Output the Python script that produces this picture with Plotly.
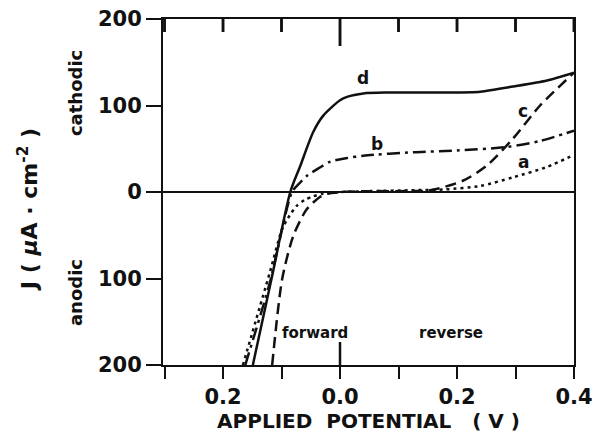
import plotly.graph_objects as go

# ---- data ----
a_x = [-0.166, -0.12, -0.099, -0.086, -0.074, -0.06, -0.046, -0.03, 0.0, 0.05, 0.12, 0.18, 0.24, 0.296, 0.354, 0.40]
a_y = [-200, -93, -43, -27, -16, -9, -5, -2, 0, 1, 2, 3, 7, 17, 29, 43]

b_x = [-0.162, -0.12, -0.082, -0.068, -0.056, -0.035, -0.017, 0.01, 0.04, 0.125, 0.2, 0.285, 0.342, 0.40]
b_y = [-200, -105, 0, 11, 19, 28, 35, 39, 42, 46, 48, 52, 59, 71]

c_x = [-0.116, -0.099, -0.08, -0.057, -0.035, -0.022, 0.0, 0.05, 0.1, 0.154, 0.21, 0.25, 0.296, 0.342, 0.40]
c_y = [-200, -101, -51, -20, -6, -2, 0, 1, 1, 2, 13, 30, 62, 100, 138]

d_x = [-0.149, -0.117, -0.085, -0.068, -0.046, -0.029, 0.0, 0.012, 0.04, 0.08, 0.125, 0.18, 0.24, 0.296, 0.354, 0.40]
d_y = [-200, -100, 0, 30, 69, 88, 106, 110, 114, 115, 115, 115, 116, 122, 129, 138]

x_tickvals = [-0.2, 0.0, 0.2, 0.4]
x_ticktext = ["0.2", "0.0", "0.2", "0.4"]
x_minorvals = [-0.3, -0.2, -0.1, 0.0, 0.1, 0.2, 0.3, 0.4]
y_tickvals = [200, 100, 0, -100, -200]
y_ticktext = ["200", "100", "0", "100", "200"]

curve_labels = [("d", 0.040, 132), ("c", 0.313, 94), ("b", 0.063, 55), ("a", 0.313, 35)]
region_labels = [("forward", -0.043, -163), ("reverse", 0.19, -163)]

FONT = "DejaVu Sans"
BLACK = "#111111"
Y_MAX = 200
PLOT_H = 346.0
PX_PER_UNIT = PLOT_H / 400.0

def bold(s):
    return "<b>" + s + "</b>"

fig = go.Figure()
styles = [
    (a_x, a_y, "3px,4px"),
    (b_x, b_y, "13px,5px,3px,5px"),
    (c_x, c_y, "11px,6px"),
    (d_x, d_y, "solid"),
]
for xs, ys, dash in styles:
    fig.add_trace(go.Scatter(x=xs, y=ys, mode="lines",
                             line=dict(color=BLACK, width=2.5, dash=dash, shape="spline", smoothing=0.7),
                             showlegend=False, hoverinfo="skip"))

# inward tick marks along the top frame (longer at 0.0) and the long inner 0.0 mark at the bottom
tx, ty = [], []
for v in x_minorvals:
    ln = 27 if abs(v) < 1e-9 else 13
    tx += [v, v, None]
    ty += [Y_MAX, Y_MAX - ln / PX_PER_UNIT, None]
tx += [0.0, 0.0, None]
ty += [-Y_MAX, -Y_MAX + 23 / PX_PER_UNIT, None]
fig.add_trace(go.Scatter(x=tx, y=ty, mode="lines", line=dict(color=BLACK, width=2.5),
                         cliponaxis=False, showlegend=False, hoverinfo="skip"))
for v in x_minorvals:
    ln = 27 if abs(v) < 1e-9 else 13
    fig.add_shape(type="line", xref="x", yref="paper", x0=v, x1=v, y0=1.0, y1=1.0 - ln / PLOT_H,
                  line=dict(color=BLACK, width=2.5), layer="above")

for t, x, y in curve_labels:
    fig.add_annotation(x=x, y=y, text=bold(t), showarrow=False,
                       font=dict(family=FONT, size=17, color=BLACK))
for t, x, y in region_labels:
    fig.add_annotation(x=x, y=y, text=bold(t), showarrow=False,
                       font=dict(family=FONT, size=15, color=BLACK))

# y-axis titles
fig.add_annotation(xref="paper", yref="paper", x=-0.328, y=0.448, xanchor="center", yanchor="middle",
                   textangle=-90, text=bold("J ( <i>μ</i>A · cm<sup>-2</sup> )"), showarrow=False,
                   font=dict(family=FONT, size=22, color=BLACK))
fig.add_annotation(xref="paper", yref="paper", x=-0.214, y=0.786, xanchor="center", yanchor="middle",
                   textangle=-90, text=bold("cathodic"), showarrow=False,
                   font=dict(family=FONT, size=18, color=BLACK))
fig.add_annotation(xref="paper", yref="paper", x=-0.214, y=0.208, xanchor="center", yanchor="middle",
                   textangle=-90, text=bold("anodic"), showarrow=False,
                   font=dict(family=FONT, size=18, color=BLACK))

fig.update_layout(
    width=593, height=438,
    margin=dict(l=163, r=19, t=19, b=73, autoexpand=False),
    paper_bgcolor="white", plot_bgcolor="white",
    font=dict(family=FONT, color=BLACK),
    xaxis=dict(range=[-0.3026, 0.4], tickmode="array", tickvals=x_tickvals, ticktext=[bold(t) for t in x_ticktext],
               ticks="outside", ticklen=12, tickwidth=2, tickcolor=BLACK,
               minor=dict(dtick=0.1, tick0=0, ticks="outside", ticklen=12, tickwidth=2, tickcolor=BLACK),
               tickfont=dict(family=FONT, size=21, color=BLACK), automargin=False,
               showline=True, linecolor=BLACK, linewidth=2, mirror=True,
               showgrid=False, zeroline=False,
               title=dict(text=bold("APPLIED  POTENTIAL   ( V )"), standoff=4,
                          font=dict(family=FONT, size=20, color=BLACK))),
    yaxis=dict(range=[-Y_MAX, Y_MAX], tickmode="array", tickvals=y_tickvals, ticktext=[bold(t) for t in y_ticktext],
               ticks="outside", ticklen=15, tickwidth=2, tickcolor=BLACK, automargin=False,
               tickfont=dict(family=FONT, size=21, color=BLACK),
               showline=True, linecolor=BLACK, linewidth=2, mirror=True,
               showgrid=False, zeroline=True, zerolinecolor=BLACK, zerolinewidth=2),
)

fig.write_html("out.html")
